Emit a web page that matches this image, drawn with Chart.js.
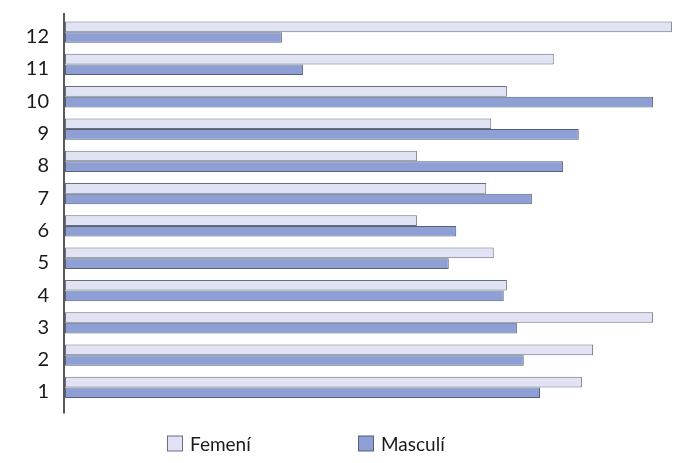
<!DOCTYPE html>
<html>
<head>
<meta charset="utf-8">
<style>
html, body { margin: 0; padding: 0; background: #fff; }
#wrap { width: 700px; height: 463px; }
</style>
</head>
<body>
<div id="wrap"><canvas id="chart"></canvas></div>
<script src="https://cdn.jsdelivr.net/npm/chart.js"></script>
<script>
// categories, bottom to top
const categories = ['1', '2', '3', '4', '5', '6', '7', '8', '9', '10', '11', '12'];
const femeni  = [82.7, 84.5, 94.1, 70.7, 68.6, 56.3, 67.4, 56.3, 68.2, 70.7, 78.2, 97.1];
const masculi = [76.0, 73.4, 72.3, 70.2, 61.4, 62.6, 74.7, 79.7, 82.2, 94.1, 38.1, 34.7];

// axis line that runs a bit past the plot area, like the original
const axisLine = {
    id: 'axisLine',
    afterDatasetsDraw(chart) {
        const {ctx, chartArea} = chart;
        ctx.save();
        ctx.strokeStyle = '#222';
        ctx.lineWidth = 1.5;
        ctx.beginPath();
        ctx.moveTo(chartArea.left - 1, chartArea.top - 3);
        ctx.lineTo(chartArea.left - 1, chartArea.bottom + 10);
        ctx.stroke();
        ctx.restore();
    }
};

// legend drawn below, items spaced wide apart
const wideLegend = {
    id: 'wideLegend',
    afterDraw(chart) {
        const ctx = chart.ctx;
        const starts = [167, 358];
        ctx.save();
        ctx.font = '19px Lato';
        ctx.textBaseline = 'middle';
        chart.data.datasets.forEach((ds, i) => {
            const x = starts[i], y = 443.5;
            ctx.fillStyle = ds.backgroundColor;
            ctx.fillRect(x + 0.5, y - 7.5, 15, 15);
            ctx.strokeStyle = ds.borderColor;
            ctx.lineWidth = 1;
            ctx.strokeRect(x + 0.5, y - 7.5, 15, 15);
            ctx.fillStyle = '#1a1a1a';
            ctx.fillText(ds.label, x + 23, y + 1);
        });
        ctx.restore();
    }
};

const ctx = document.getElementById('chart').getContext('2d');
const chart = new Chart(ctx, {
    type: 'bar',
    data: {
        labels: categories,
        datasets: [{
            label: 'Femení',
            data: femeni,
            backgroundColor: '#dfe3f3',
            borderColor: '#6a6d7a',
            borderWidth: 1,
            borderSkipped: false
        }, {
            label: 'Masculí',
            data: masculi,
            backgroundColor: '#8d9fd5',
            borderColor: '#5a5f75',
            borderWidth: 1,
            borderSkipped: false
        }]
    },
    options: {
        indexAxis: 'y',
        responsive: true,
        maintainAspectRatio: false,
        animation: false,
        layout: { padding: { top: 16, right: 10, bottom: 59.4, left: 0 } },
        datasets: { bar: { categoryPercentage: 0.66, barPercentage: 1.0 } },
        plugins: {
            legend: { display: false },
            tooltip: { enabled: false }
        },
        scales: {
            x: { display: false, min: 0, max: 100 },
            y: {
                reverse: true,
                grid: { display: false, drawTicks: false },
                border: { display: false },
                ticks: {
                    color: '#1a1a1a',
                    font: { family: 'Lato', size: 20 },
                    padding: 16,
                    labelOffset: 4.5
                },
                afterFit(scale) {
                    scale.width = 65;
                    scale.paddingTop = 0;
                    scale.paddingBottom = 0;
                }
            }
        }
    },
    plugins: [axisLine, wideLegend]
});
</script>
</body>
</html>
